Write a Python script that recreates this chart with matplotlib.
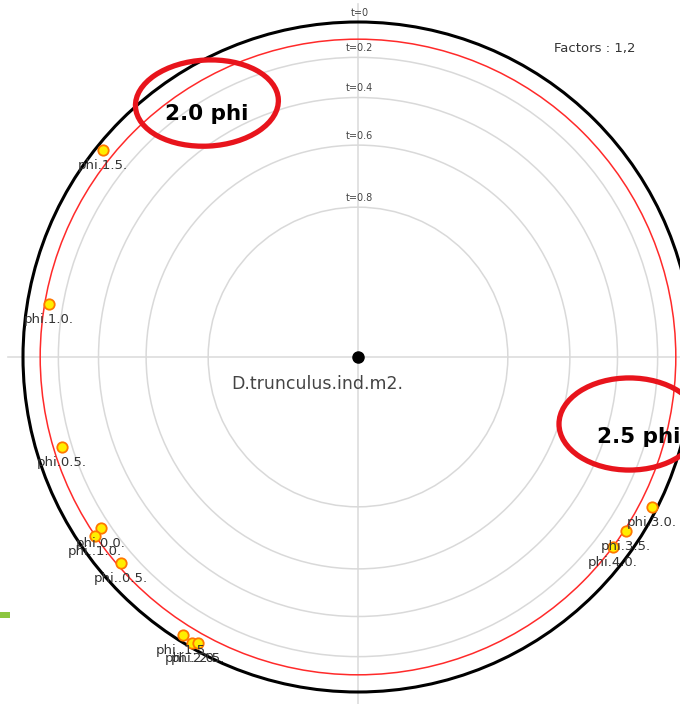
import numpy as np
import matplotlib.pyplot as plt
from matplotlib.patches import Circle, Ellipse, Rectangle

# t levels of the reference circles (radius = sqrt(1 - t))
t_levels = [0, 0.2, 0.4, 0.6, 0.8]
t_red = 0.1

# projected points (unit circle coordinates)
point_labels = ["phi.1.5.", "phi.1.0.", "phi.0.5.", "phi.0.0.", "phi..1.0.", "phi..0.5.",
                "phi..1.5.", "phi..2.0.", "phi..2.5.", "phi.3.0.", "phi.3.5.", "phi.4.0."]
point_x = [-0.761, -0.922, -0.884, -0.767, -0.785, -0.707, -0.522, -0.496, -0.478, 0.878, 0.800, 0.761]
point_y = [0.618, 0.158, -0.269, -0.510, -0.534, -0.615, -0.830, -0.854, -0.854, -0.448, -0.519, -0.567]

center_label = "D.trunculus.ind.m2."
factors_text = "Factors : 1,2"
callouts = ["2.0 phi", "2.5 phi"]

R = 335.0  # pixels per unit
fig = plt.figure(figsize=(6.8, 7.04), dpi=100)
ax = fig.add_axes([0, 0, 1, 1])
ax.set_xlim(-358 / R, (680 - 358) / R)
ax.set_ylim((357 - 704) / R, 357 / R)
ax.set_aspect('equal')
ax.axis('off')

# axes cross
ax.plot([-1.045, 1.045], [0, 0], color='#dddddd', lw=1.2, zorder=1)
ax.plot([0, 0], [-1.045, 1.055], color='#dddddd', lw=1.2, zorder=1)

# t circles
for t in t_levels:
    r = np.sqrt(1 - t)
    if t == 0:
        ax.add_patch(Circle((0, 0), r, fill=False, ec='black', lw=2.2, zorder=3))
        lab = "t=0"
    else:
        ax.add_patch(Circle((0, 0), r, fill=False, ec='#d9d9d9', lw=1.1, zorder=2))
        lab = "t=%g" % t
    ax.text(0.005, r + 0.012, lab, ha='center', va='bottom', fontsize=7, color='#444444', zorder=4)

ax.add_patch(Circle((0, 0), np.sqrt(1 - t_red), fill=False, ec='#ff2a2a', lw=1.1, zorder=3))

# centre point
ax.plot(0, 0, 'o', color='black', ms=8, zorder=5)
ax.text(-0.122, -0.081, center_label, ha='center', va='center', fontsize=12.5, color='#444444')
ax.text(595 / R - 358 / R, (357 - 48) / R, factors_text, ha='center', va='center',
        fontsize=9.5, color='#333333')

# points and labels
ax.plot(point_x, point_y, 'o', ms=7.5, mfc='#ffee00', mec='#ff7700', mew=1.3, zorder=6)
for lab, x, y in zip(point_labels, point_x, point_y):
    ax.text(x, y - 0.028, lab, ha='center', va='top', fontsize=9.5, color='#333333', zorder=7)

# red callouts
ax.add_patch(Ellipse((-0.451, 0.758), 0.427, 0.257, angle=3, fill=False, ec='#e8141c', lw=3.8, zorder=8))
ax.text(-0.451, 0.725, callouts[0], ha='center', va='center', fontsize=15.5, fontweight='bold', zorder=9)
ax.add_patch(Ellipse((0.81, -0.2), 0.42, 0.275, angle=0, fill=False, ec='#e8141c', lw=3.8, zorder=8))
ax.text(0.713, -0.239, callouts[1], ha='left', va='center', fontsize=15.5, fontweight='bold', zorder=9)

# small green mark on the left edge
ax.add_patch(Rectangle((-358 / R, (357 - 618) / R), 10 / R, 6 / R, color='#8cc63f', lw=0, zorder=1))

fig.savefig('out.png', dpi=100)
